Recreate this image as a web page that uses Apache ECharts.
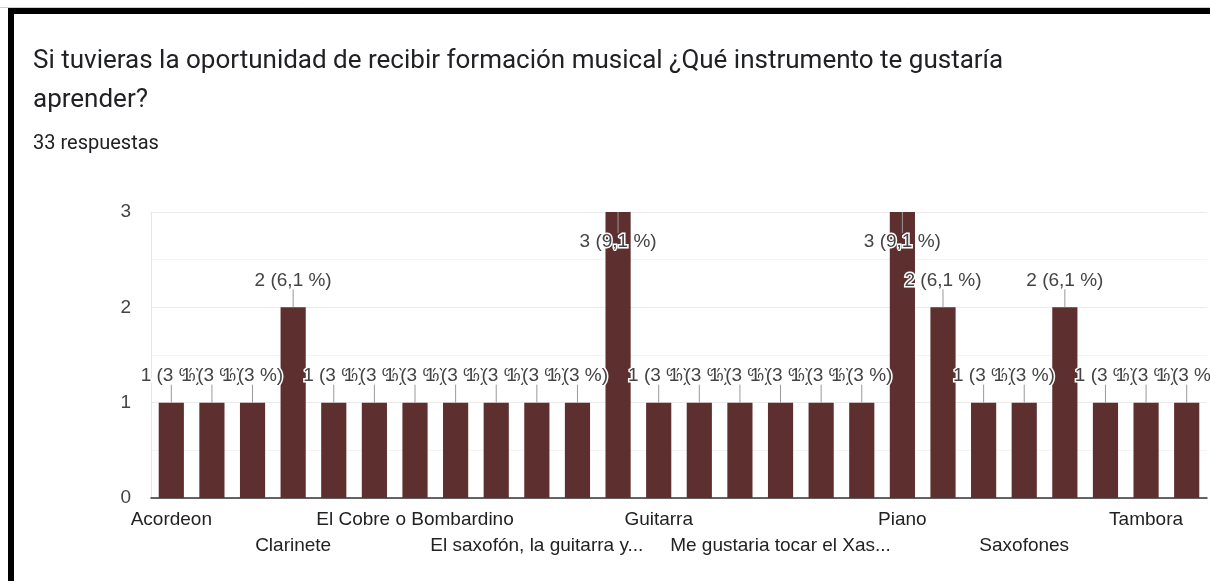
<!DOCTYPE html>
<html lang="es">
<head>
    <meta charset="UTF-8">
    <title>Instrumento</title>
    <script type="text/javascript" src="https://cdn.jsdelivr.net/npm/echarts@6/dist/echarts.min.js"></script>
    <style>
        html, body { margin: 0; padding: 0; background: #fff; }
        #main { width: 1210px; height: 581px; }
    </style>
</head>
<body>
<div id="main"></div>
<script type="text/javascript">
    // respuestas (orden alfabetico como en el formulario)
    var instrumentos = [
        'Acordeon', 'Bajo', 'Batería', 'Clarinete', 'Contrabajo', 'Corneta',
        'El Cobre o Bombardino', 'El piano', 'El saxofón', 'El saxofón, la guitarra y el piano',
        'Eufonio', 'Flauta', 'Guitarra', 'Guitarra eléctrica', 'Marimba',
        'Me gustaria tocar el Xasofon', 'Ninguno', 'Percusión', 'Piano', 'Saxofon',
        'Saxofon y piano', 'Saxofones', 'Saxofón', 'Tambor', 'Tambora', 'Trompeta'
    ];
    var respuestas = [1, 1, 1, 2, 1, 1, 1, 1, 1, 1, 1, 3, 1, 1, 1, 1, 1, 1, 3, 2, 1, 1, 2, 1, 1, 1];
    var yTicks = [0, 1, 2, 3];
    var total = 33;

    var myChart = echarts.init(document.getElementById('main'), null, {renderer: 'canvas'});

    function etiqueta(v) {
        var p = (v / total * 100).toFixed(1).replace('.', ',').replace(',0', '');
        return v + ' (' + p + ' %)';
    }

    var labelData = respuestas.map(function (v, i) { return [i, v]; });
    var yMax = yTicks[yTicks.length - 1];

    myChart.setOption({
        animation: false,
        title: [{
            text: 'Si tuvieras la oportunidad de recibir formación musical ¿Qué instrumento te gustaría\naprender?',
            left: 33,
            top: 42,
            padding: 0,
            textStyle: {fontFamily: 'Roboto', fontSize: 26, fontWeight: 'normal', color: '#202124', lineHeight: 39}
        }, {
            text: '33 respuestas',
            left: 33,
            top: 131,
            padding: 0,
            textStyle: {fontFamily: 'Roboto', fontSize: 20, fontWeight: 'normal', color: '#202124', lineHeight: 26}
        }],
        graphic: [{
            type: 'line',
            shape: {x1: 0, y1: 7.5, x2: 1210, y2: 7.5},
            style: {stroke: '#cfcfcf', lineWidth: 1}
        }, {
            type: 'rect',
            shape: {x: 11, y: 11, width: 1300, height: 700},
            style: {fill: null, stroke: '#000', lineWidth: 6}
        }],
        grid: {left: 151, right: 3, top: 212, bottom: 83},
        xAxis: {
            type: 'category',
            data: instrumentos,
            axisTick: {show: false},
            axisLine: {lineStyle: {color: '#333', width: 1.5}},
            axisLabel: {
                interval: 2,
                margin: 9,
                fontFamily: 'Liberation Sans, Arial',
                fontSize: 19,
                lineHeight: 26,
                color: '#222',
                formatter: function (name, idx) {
                    var t = echarts.format.truncateText(name, 228, '19px "Liberation Sans"', '...');
                    t = t.replace(/\s+\.\.\.$/, '...');
                    return (idx % 6 === 3) ? '\n' + t : t;
                }
            }
        },
        yAxis: {
            type: 'value',
            min: 0,
            max: yMax,
            interval: 1,
            axisLine: {show: true, lineStyle: {color: '#e6e6e6'}},
            axisTick: {show: false},
            axisLabel: {margin: 20, fontFamily: 'Liberation Sans, Arial', fontSize: 19, color: '#444'},
            splitLine: {lineStyle: {color: '#ebebeb'}},
            minorTick: {show: false, splitNumber: 2},
            minorSplitLine: {show: true, lineStyle: {color: '#f4f4f4'}}
        },
        series: [{
            type: 'bar',
            data: respuestas,
            barCategoryGap: '38%',
            itemStyle: {color: '#5e2f2f'},
            z: 2
        }, {
            type: 'custom',
            data: labelData,
            z: 5,
            renderItem: function (params, api) {
                var i = api.value(0), v = api.value(1);
                var pt = api.coord([i, v]);
                var inside = v >= yMax;
                var y2 = inside ? pt[1] + 21 : pt[1] - 18;
                var ty = inside ? pt[1] + 30 : pt[1] - 27;
                return {
                    type: 'group',
                    children: [{
                        type: 'line',
                        shape: {x1: pt[0], y1: pt[1], x2: pt[0], y2: y2},
                        style: {stroke: '#999', lineWidth: 1}
                    }, {
                        type: 'text',
                        style: {
                            text: etiqueta(v),
                            x: pt[0],
                            y: ty,
                            align: 'center',
                            verticalAlign: 'middle',
                            font: '19px "Liberation Sans", Arial',
                            fill: '#444',
                            stroke: '#fff',
                            lineWidth: 3
                        }
                    }]
                };
            }
        }]
    });
</script>
</body>
</html>
